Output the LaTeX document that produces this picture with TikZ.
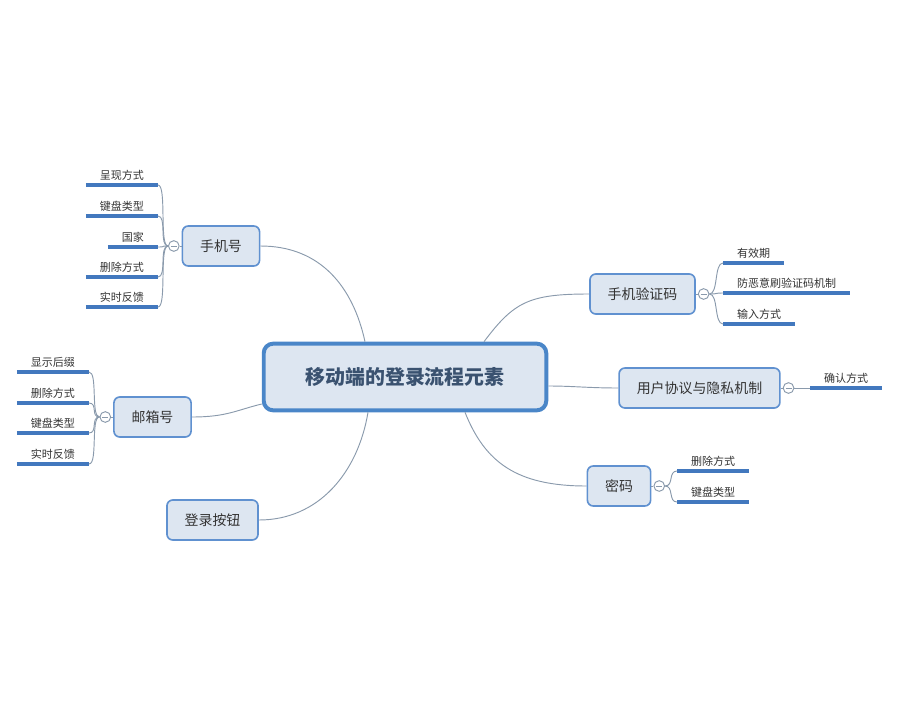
\documentclass[tikz,border=0pt]{standalone}
\usepackage{fontspec}
\setmainfont{Noto Sans CJK SC}
\usetikzlibrary{positioning}
\definecolor{TopicBlue} {RGB}{ 74,134,200}
\definecolor{TopicFill} {RGB}{221,230,241}
\definecolor{TopicText} {RGB}{ 58, 82,112}
\definecolor{SubBorder} {RGB}{ 96,145,208}
\definecolor{LinkGray}  {RGB}{138,154,172}
\definecolor{LeafBlue}  {RGB}{ 66,120,190}
\definecolor{TextGray}  {RGB}{ 51, 51, 51}
\tikzset{
  %% 中心主题
  maintopic/.style={rectangle,rounded corners=8pt,
                    draw=TopicBlue,line width=3.4pt,fill=TopicFill,
                    minimum height=2.0cm,inner xsep=1.25cm,
                    font=\fontsize{17}{20}\selectfont\bfseries,
                    text=TopicText,align=center},
  %% 分支主题
  subtopic/.style={rectangle,rounded corners=5pt,
                   draw=SubBorder,line width=1.4pt,fill=TopicFill,
                   minimum height=1.2cm,inner xsep=0.53cm,
                   font=\fontsize{11.9}{14}\selectfont,
                   text=TextGray,align=center},
  %% 子主题（下划线文字）
  leafnode/.style={inner xsep=0.42cm,inner ysep=0.14cm,outer sep=0pt,
                   font=\fontsize{9.4}{11}\selectfont,text=TextGray},
  %% 折叠标记
  foldmark/.style={circle,draw=LinkGray,line width=0.8pt,fill=white,
                   minimum size=0.32cm,inner sep=0pt,
                   path picture={\draw[LinkGray,line width=0.6pt]
                     ([xshift=2pt]path picture bounding box.west) --
                     ([xshift=-2pt]path picture bounding box.east);}},
  %% 连线
  linkline/.style={draw=LinkGray,line width=0.8pt},
  leafcurve/.style={draw=LinkGray,line width=0.8pt},
  leafline/.style={draw=LeafBlue,line width=3pt},
}
\begin{document}
\begin{tikzpicture}[x=0.03cm,y=-0.03cm]
    \useasboundingbox (0,0) rectangle (900,700);

    %% ── 中心主题 ─────────────────────────────────────────────
    \node[maintopic] (main) at (405,377) {移动端的登录流程元素};

    %% ── 分支主题 ─────────────────────────────────────────────
    \node[subtopic] (sj)  at (221,246)   {手机号};
    \node[subtopic] (yx)  at (152.5,417) {邮箱号};
    \node[subtopic] (dl)  at (212.5,520) {登录按钮};
    \node[subtopic] (yzm) at (642.5,294) {手机验证码};
    \node[subtopic] (xy)  at (699.5,388) {用户协议与隐私机制};
    \node[subtopic] (mm)  at (619,486)   {密码};

    %% 中心到分支的曲线
    \draw[linkline] (sj.east) .. controls +(60,0) and +(-12,-55)
                    .. ([xshift=-1.2cm]main.north);
    \draw[linkline] (yzm.west) .. controls +(-60,0) and +(30,-40)
                    .. ([xshift=2.37cm]main.north);
    \draw[linkline] (yx.east) .. controls +(35,0) and +(-25,6)
                    .. ([yshift=-0.81cm]main.west);
    \draw[linkline] (dl.east) .. controls +(60,0) and +(-10,60)
                    .. ([xshift=-1.11cm]main.south);
    \draw[linkline] (mm.west) .. controls +(-70,0) and +(20,50)
                    .. ([xshift=1.8cm]main.south);
    \draw[linkline] (xy.west) .. controls +(-30,0) and +(25,0)
                    .. ([yshift=-0.27cm]main.east);

    %% ── 折叠标记 ─────────────────────────────────────────────
    \node[foldmark,left=0.06cm of sj]   (sjc)  {};
    \node[foldmark,left=0.06cm of yx]   (yxc)  {};
    \node[foldmark,right=0.06cm of yzm] (yzmc) {};
    \node[foldmark,right=0.06cm of xy]  (xyc)  {};
    \node[foldmark,right=0.06cm of mm]  (mmc)  {};

    \draw[linkline] (sj.west)  -- (sjc.east);
    \draw[linkline] (yx.west)  -- (yxc.east);
    \draw[linkline] (yzm.east) -- (yzmc.west);
    \draw[linkline] (xy.east)  -- (xyc.west);
    \draw[linkline] (mm.east)  -- (mmc.west);

    %% ── 子主题：手机号 ───────────────────────────────────────
    \node[leafnode,anchor=south east] (sj1) at (158,185) {呈现方式};
    \node[leafnode,anchor=south east] (sj2) at (158,216) {键盘类型};
    \node[leafnode,anchor=south east] (sj3) at (158,247) {国家};
    \node[leafnode,anchor=south east] (sj4) at (158,277) {删除方式};
    \node[leafnode,anchor=south east] (sj5) at (158,307) {实时反馈};
    \foreach \n in {sj1,sj2,sj3,sj4,sj5}{
      \draw[leafline] (\n.south west) -- (\n.south east);
      \draw[leafcurve] (sjc.west) .. controls +(-9,0) and +(9,0) .. (\n.south east);
    }

    %% ── 子主题：邮箱号 ───────────────────────────────────────
    \node[leafnode,anchor=south east] (yx1) at (89,372) {显示后缀};
    \node[leafnode,anchor=south east] (yx2) at (89,403) {删除方式};
    \node[leafnode,anchor=south east] (yx3) at (89,433) {键盘类型};
    \node[leafnode,anchor=south east] (yx4) at (89,464) {实时反馈};
    \foreach \n in {yx1,yx2,yx3,yx4}{
      \draw[leafline] (\n.south west) -- (\n.south east);
      \draw[leafcurve] (yxc.west) .. controls +(-9,0) and +(9,0) .. (\n.south east);
    }

    %% ── 子主题：手机验证码 ───────────────────────────────────
    \node[leafnode,anchor=south west] (yzm1) at (723,263) {有效期};
    \node[leafnode,anchor=south west] (yzm2) at (723,293) {防恶意刷验证码机制};
    \node[leafnode,anchor=south west] (yzm3) at (723,324) {输入方式};
    \foreach \n in {yzm1,yzm2,yzm3}{
      \draw[leafline] (\n.south west) -- (\n.south east);
      \draw[leafcurve] (yzmc.east) .. controls +(9,0) and +(-9,0) .. (\n.south west);
    }

    %% ── 子主题：用户协议与隐私机制 ───────────────────────────
    \node[leafnode,anchor=south west] (xy1) at (810,388) {确认方式};
    \draw[leafline] (xy1.south west) -- (xy1.south east);
    \draw[leafcurve] (xyc.east) -- (xy1.south west);

    %% ── 子主题：密码 ─────────────────────────────────────────
    \node[leafnode,anchor=south west] (mm1) at (677,471) {删除方式};
    \node[leafnode,anchor=south west] (mm2) at (677,502) {键盘类型};
    \foreach \n in {mm1,mm2}{
      \draw[leafline] (\n.south west) -- (\n.south east);
      \draw[leafcurve] (mmc.east) .. controls +(9,0) and +(-9,0) .. (\n.south west);
    }
\end{tikzpicture}
\end{document}
